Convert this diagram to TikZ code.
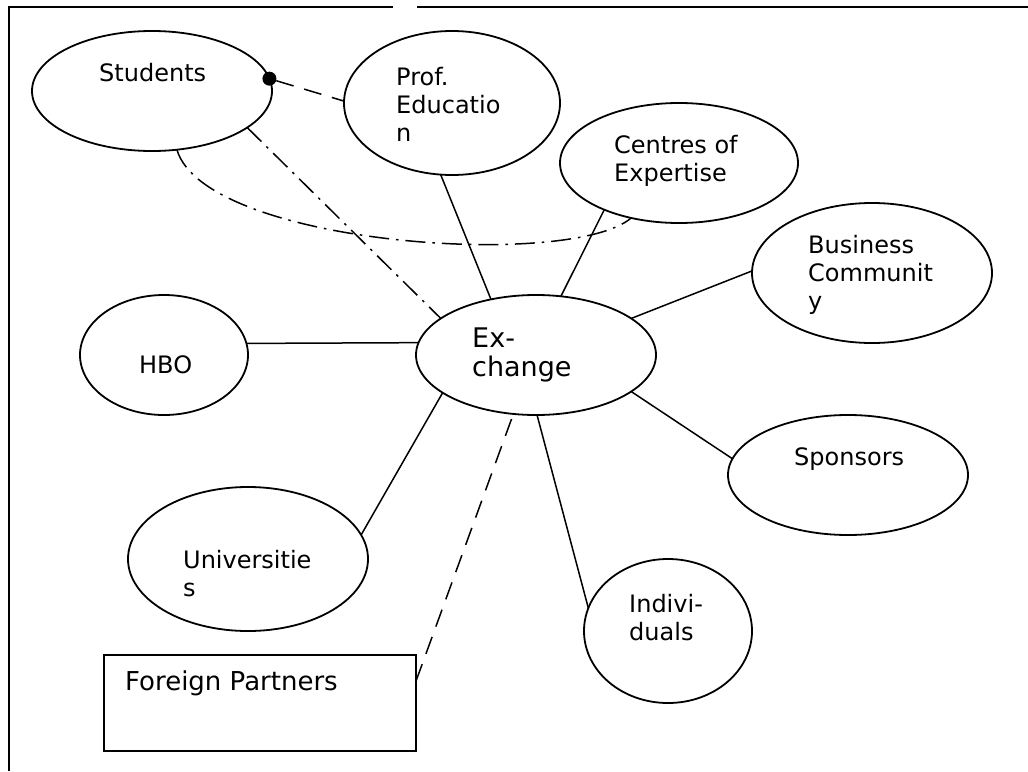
\documentclass[tikz,border=0pt]{standalone}
\usepackage{fontspec}
\setmainfont{DejaVu Sans}
\usetikzlibrary{shapes.geometric}
\begin{document}
\begin{tikzpicture}[x=1pt, y=-1pt,
    oval/.style={draw, ellipse, line width=1.8pt, inner sep=0pt, outer sep=0pt},
    txt/.style={anchor=north west, inner sep=0pt, align=left, font=\fontsize{24}{28}\selectfont},
    link/.style={line width=1.5pt},
    dashlink/.style={link, dash pattern=on 18pt off 11pt},
    dotlink/.style={link, dash pattern=on 20pt off 7pt on 2.5pt off 7pt},
    frame/.style={line width=2.2pt}
]
    \useasboundingbox (0,0) rectangle (1028,771);

    % Frame
    \draw[frame] (393,7) -- (9,7) -- (9,771);
    \draw[frame] (417,7) -- (1028,7);

    % Exchange at center
    \node[oval, minimum width=240pt, minimum height=120pt] (exch) at (536,355) {};
    \node[txt, font=\fontsize{27}{29}\selectfont] (exch-t) at (472,328) {Ex-\\change};

    % Partners around
    \node[oval, minimum width=240pt, minimum height=120pt] (students) at (152,91) {};
    \node[txt] (students-t) at (99,63) {Students};
    \node[oval, minimum width=216pt, minimum height=144pt] (prof) at (452,103) {};
    \node[txt] (prof-t) at (396,67) {Prof.\\Educatio\\n};
    \node[oval, minimum width=238pt, minimum height=120pt] (centres) at (679,163) {};
    \node[txt] (centres-t) at (614,135) {Centres of\\Expertise};
    \node[oval, minimum width=240pt, minimum height=140pt] (business) at (872,273) {};
    \node[txt] (business-t) at (808,235) {Business\\Communit\\y};
    \node[oval, minimum width=240pt, minimum height=120pt] (sponsors) at (848,475) {};
    \node[txt] (sponsors-t) at (794,447) {Sponsors};
    \node[oval, minimum width=168pt, minimum height=144pt] (indiv) at (668,631) {};
    \node[txt] (indiv-t) at (629,594) {Indivi-\\duals};
    \node[oval, minimum width=168pt, minimum height=120pt] (hbo) at (164,355) {};
    \node[txt] (hbo-t) at (139,355) {HBO};
    \node[oval, minimum width=240pt, minimum height=144pt] (univ) at (248,559) {};
    \node[txt] (univ-t) at (183,550) {Universitie\\s};
    \node[draw, line width=1.8pt, inner sep=0pt, outer sep=0pt, minimum width=312pt, minimum height=96pt] (foreign) at (260,703) {};
    \node[txt, font=\fontsize{26}{30}\selectfont] (foreign-t) at (125,671) {Foreign Partners};

    % Students links
    \node[circle, fill, inner sep=0pt, minimum size=14pt] (dot) at (students.6) {};
    \draw[dashlink] (dot) -- (prof.179);
    \draw[dotlink] (students.-21) -- (exch.159);
    \draw[dotlink] (students.-67) .. controls (205,245) and (570,270) .. (centres.-131);

    % Spokes
    \draw[link] (prof.-99) -- (exch.129);
    \draw[link] (centres.-148) -- (exch.67);
    \draw[link] (business.179) -- (exch.21);
    \draw[link] (sponsors.172) -- (exch.-21);
    \draw[link] (indiv.164) -- (exch.-89);
    \draw[link] (univ.12) -- (exch.-158);
    \draw[link] (hbo.8) -- (exch.174);
    \draw[dashlink] (foreign.8.4) -- (exch.-111);
\end{tikzpicture}
\end{document}
